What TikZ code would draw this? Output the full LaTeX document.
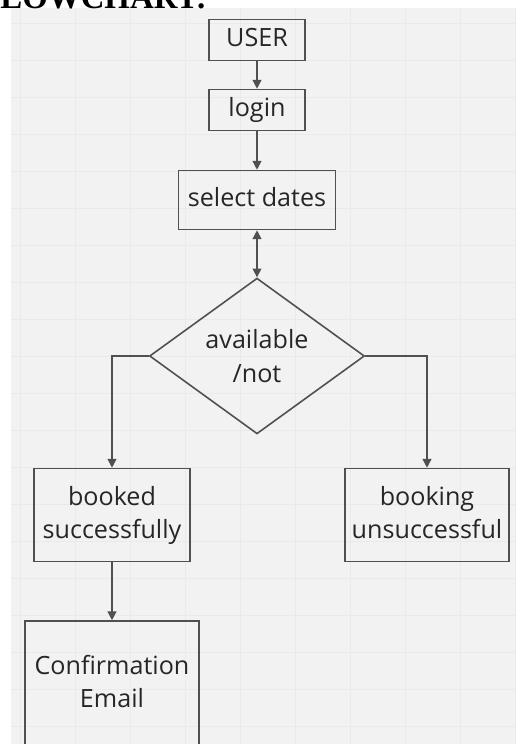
\documentclass[tikz,border=0pt]{standalone}
\usepackage{fontspec}
\setmainfont{Open Sans}
\newfontfamily\titlefont{Liberation Serif}
\usepackage{tikz}
\usetikzlibrary{arrows.meta}
\usetikzlibrary{shapes.geometric}

\definecolor{panelgray}{HTML}{F2F2F2}
\definecolor{gridgray}{HTML}{EAEAEA}
\definecolor{linegray}{HTML}{505050}
\definecolor{textgray}{HTML}{262626}

\tikzset{
  stepbox/.style={draw=linegray, line width=0.9pt, text=textgray, align=center,
    inner sep=2pt, text depth=0.3em, font=\fontsize{14.3}{19}\selectfont},
  decision/.style={diamond, draw=linegray, line width=0.9pt, text=textgray, align=center,
    inner sep=0pt, minimum width=4.3cm, minimum height=2.98cm,
    font=\fontsize{14.3}{19}\selectfont},
  flow/.style={draw=linegray, line width=0.8pt, -{Triangle[length=5pt,width=5pt]}},
}

\begin{document}
\begin{tikzpicture}[x=0.02cm,y=-0.02cm]
		\useasboundingbox (0,0) rectangle (517,744);
		\clip (0,0) rectangle (517,744);
		% panel with grid
		\fill[panelgray] (11,8) rectangle (515,744);
		\foreach \gx in {20,75,...,515}
			\draw[gridgray, line width=0.4pt] (\gx,8) -- (\gx,744);
		\foreach \gy in {23,60,...,744}
			\draw[gridgray, line width=0.4pt] (11,\gy) -- (515,\gy);
		% title, cut by the page edge
		\node[anchor=base west, inner sep=0pt, font=\titlefont\bfseries\fontsize{18.7}{20}\selectfont] (title) at (-20,8) {FLOWCHART:};
		% steps
		\node[stepbox, minimum width=1.92cm, minimum height=0.82cm] (user) at (257,40) {USER};
		\node[stepbox, minimum width=1.92cm, minimum height=0.82cm] (login) at (257,110) {login};
		\node[stepbox, minimum width=3.14cm, minimum height=1.18cm] (dates) at (257,200) {select dates};
		\node[decision] (avail) at (257,356) {available\\/not};
		\node[stepbox, minimum width=3.12cm, minimum height=1.86cm] (booked) at (112,515) {booked\\successfully};
		\node[stepbox, minimum width=3.28cm, minimum height=1.86cm] (failed) at (427,515) {booking\\unsuccessful};
		\node[stepbox, minimum width=3.48cm, minimum height=2.52cm] (email) at (112,684) {Confirmation\\Email};
		% connectors
		\draw[flow] (user) -- (login);
		\draw[flow] (login) -- (dates);
		\draw[flow, {Triangle[length=5pt,width=5pt]}-{Triangle[length=5pt,width=5pt]}] (dates) -- (avail.north);
		\draw[flow] (avail.west) -| (booked.north);
		\draw[flow] (avail.east) -| (failed.north);
		\draw[flow] (booked) -- (email);
\end{tikzpicture}
\end{document}
